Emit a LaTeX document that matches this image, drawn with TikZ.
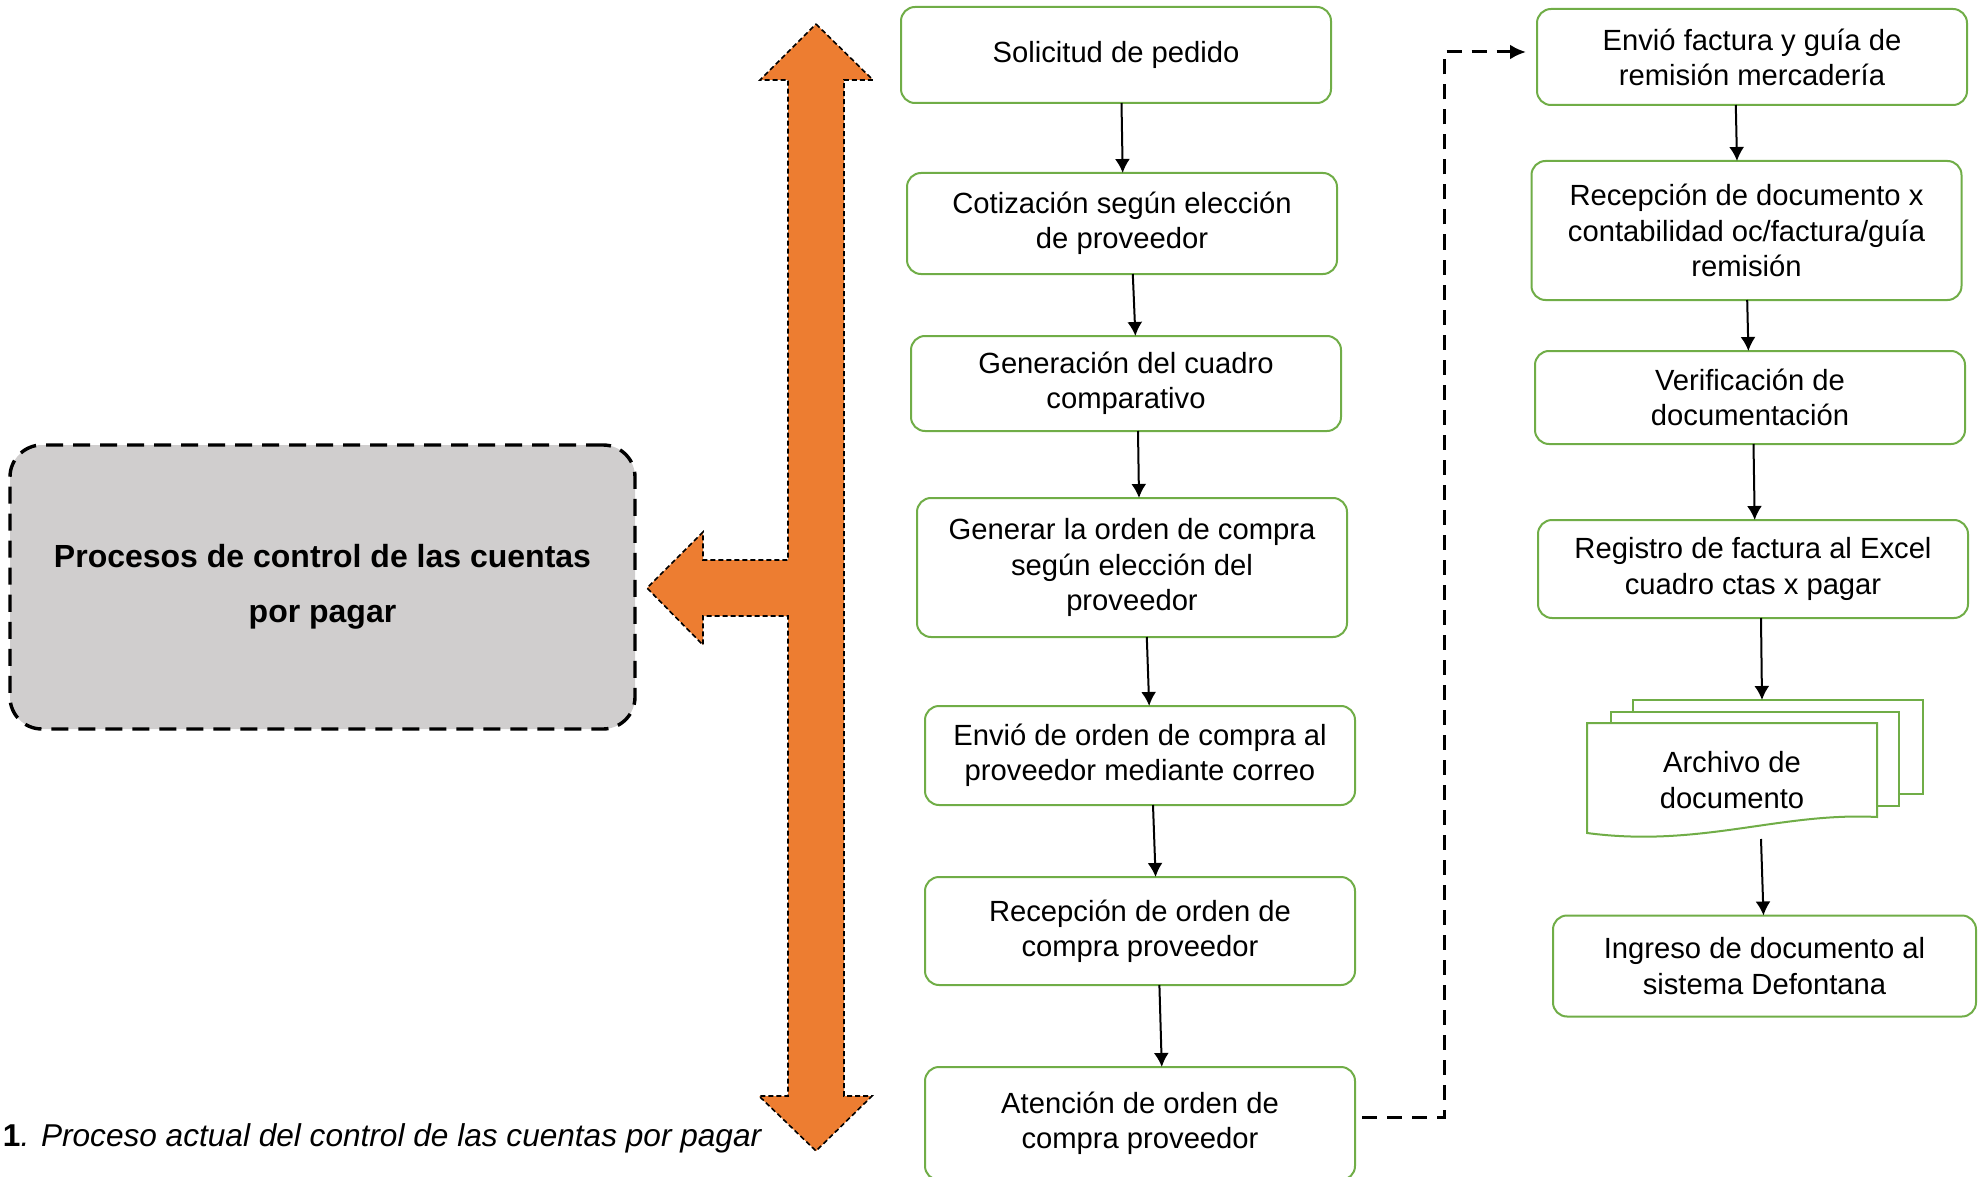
\documentclass[tikz,border=0pt]{standalone}
\usepackage{fontspec}
\setmainfont{Liberation Sans}
\usetikzlibrary{positioning}
\usetikzlibrary{arrows.meta}
\usetikzlibrary{calc}
\definecolor{verde}{HTML}{70AD47}
\definecolor{naranja}{HTML}{ED7D31}
\definecolor{gris}{HTML}{D0CECE}

\begin{document}
\begin{tikzpicture}[x=0.5pt,y=-0.5pt,every node/.style={outer sep=0pt},
 tarea/.style={draw=verde,line width=1pt,rounded corners=7pt,fill=white,align=center,
  minimum width=215pt,font=\fontsize{14.6}{17.6}\selectfont},
 sheet/.style={draw=verde,line width=1pt,fill=white},
 arr/.style={-{Latex[length=7pt,width=7.5pt]},line width=1pt},
 link/.style={-{Latex[length=8pt,width=7.5pt]},line width=1.5pt,dash pattern=on 7.5pt off 5pt},
 bigarrow/.style={fill=naranja,draw=black,line width=0.8pt,dash pattern=on 2.5pt off 1.5pt}]

  \useasboundingbox (0,0) rectangle (1978,1177);

  % orange double arrow with branch to the left
  \draw[bigarrow] (816,24) -- (873,80) -- (844,80) -- (844,1096) -- (872,1096)
   -- (816,1151) -- (759,1096) -- (788,1096) -- (788,616) -- (703,616)
   -- (703,645) -- (647,588) -- (703,532) -- (703,560) -- (788,560)
   -- (788,80) -- (760,80) -- cycle;

  \node[fill=gris,draw,line width=1.7pt,dash pattern=on 8.5pt off 5pt,rounded corners=16pt,
   minimum width=312.5pt,minimum height=142pt,align=center,
   font=\bfseries\fontsize{16}{27.5}\selectfont] (ctrl) at (322.5,587)
   {Procesos de control de las cuentas\\por pagar};

  % left column
  \node[tarea,minimum height=48pt] (s1) at (1116,55) {Solicitud de pedido};
  \node[tarea,minimum height=50.5pt] (s2) at (1122,223.5) {Cotización según elección\\de proveedor};
  \node[tarea,minimum height=47.5pt] (s3) at (1126,383.5) {Generación del cuadro\\comparativo};
  \node[tarea,minimum height=69.5pt] (s4) at (1132,567.5) {Generar la orden de compra\\según elección del\\proveedor};
  \node[tarea,minimum height=49.5pt] (s5) at (1140,755.5) {Envió de orden de compra al\\proveedor mediante correo};
  \node[tarea,minimum height=54pt] (s6) at (1140,931) {Recepción de orden de\\compra proveedor};
  \node[tarea,minimum height=56.5pt] (s7) at (1140,1123.5) {Atención de orden de\\compra proveedor};

  % right column
  \node[tarea,minimum height=48pt] (r1) at (1752,57) {Envió factura y guía de\\remisión mercadería};
  \node[tarea,minimum height=69.5pt] (r2) at (1746.5,230.5) {Recepción de documento x\\contabilidad oc/factura/guía\\remisión};
  \node[tarea,minimum height=46.5pt] (r3) at (1750,397.5) {Verificación de\\documentación};
  \node[tarea,minimum height=49pt] (r4) at (1753,569) {Registro de factura al Excel\\cuadro ctas x pagar};
  \node[sheet,minimum width=145pt,minimum height=47pt] (r5c) at (1778,747) {};
  \node[sheet,minimum width=144pt,minimum height=47pt] (r5b) at (1755,759) {};
  \draw[sheet] (1587,723) -- (1877,723) -- (1877,817)
   .. controls (1780,812) and (1700,848) .. (1587,833) -- cycle;
  \node[align=center,minimum height=59pt,font=\fontsize{14.6}{17.6}\selectfont] (r5) at (1732,780) {Archivo de\\documento};
  \node[tarea,minimum width=211.5pt,minimum height=50.5pt] (r6) at (1764.5,966) {Ingreso de documento al\\sistema Defontana};

  \foreach \a/\b/\p/\q in {s1/s2/2.75pt/0.35pt,s2/s3/5.4pt/4.7pt,s3/s4/6pt/3.5pt,
   s4/s5/7.4pt/4.6pt,s5/s6/6.5pt/7.8pt,s6/s7/9.7pt/10.9pt,r1/r2/-8.1pt/-4.75pt,
   r2/r3/0.35pt/-0.8pt,r3/r4/1.75pt/0.85pt,r4/r5c/4pt/-8pt,r5/r6/14.5pt/-0.5pt}
  {\draw[arr] ([xshift=\p]\a.south) -- ([xshift=\q]\b.north);}

  \draw[link] ([xshift=3.5pt,yshift=3pt]s7.east) -| ([xshift=-46.5pt,yshift=2.5pt]r1.west)
   -- ([xshift=-5.5pt,yshift=2.5pt]r1.west);

  \node[anchor=west,inner sep=0pt,font=\fontsize{15.8}{19}\selectfont] (cap) at (3,1138)
   {\textbf{1}\textit{. Proceso actual del control de las cuentas por pagar}};

\end{tikzpicture}
\end{document}
